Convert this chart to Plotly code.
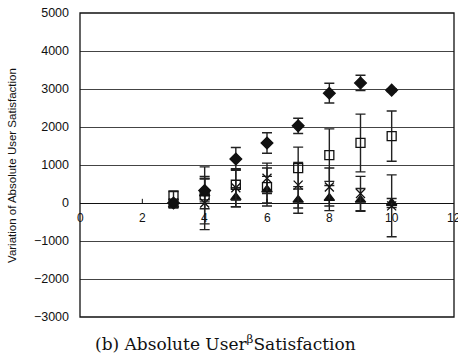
import plotly.graph_objects as go

# Number of items on the x axis
x_vals = [3, 4, 5, 6, 7, 8, 9, 10]

# Mean variation of absolute user satisfaction per series, with error half-widths
diamond_y = [0, 330, 1160, 1580, 2030, 2890, 3160, 2970]
diamond_err = [80, 300, 300, 270, 200, 260, 200, 40]

square_y = [200, 200, 480, 420, 920, 1260, 1580, 1760]
square_err = [100, 750, 400, 500, 550, 690, 760, 660]

cross_y = [0, 0, 400, 650, 470, 420, 250, -75]
cross_err = [80, 700, 500, 400, 600, 500, 450, 815]

triangle_y = [-50, 250, 150, 350, 80, 130, 80, 0]
triangle_err = [80, 400, 250, 350, 350, 330, 300, 120]

y_ticks = [-3000, -2000, -1000, 0, 1000, 2000, 3000, 4000, 5000]
x_ticks = [0, 2, 4, 6, 8, 10, 12]

fig = go.Figure()


def add_series(y, err, symbol, fill):
    fig.add_trace(go.Scatter(
        x=x_vals, y=y, mode="markers",
        marker=dict(symbol=symbol, size=9, color=fill,
                    line=dict(color="#111", width=1.3)),
        error_y=dict(type="data", array=err, visible=True,
                     color="#222", thickness=1.4, width=5),
        showlegend=False, cliponaxis=False,
    ))


add_series(triangle_y, triangle_err, "triangle-up", "#111")
add_series(cross_y, cross_err, "x-thin-open", "#111")
add_series(square_y, square_err, "square-open", "#111")
add_series(diamond_y, diamond_err, "diamond", "#111")

# The x axis crosses at y = 0: its tick marks and labels hang off the zero line
tick_shapes = [
    dict(type="line", xref="x", yref="y", x0=v, x1=v, y0=0, y1=110,
         line=dict(color="#111", width=1))
    for v in x_ticks[1:-1]
]
tick_labels = [
    dict(text=str(v), xref="x", yref="y", x=v, y=0, yshift=-15,
         showarrow=False, font=dict(size=12), xanchor="center",
         yanchor="middle")
    for v in x_ticks
]

fig.update_layout(
    template="none",
    width=458, height=358,
    margin=dict(l=80, r=4, t=13, b=41),
    paper_bgcolor="white", plot_bgcolor="white",
    font=dict(family="Liberation Sans, Arial, sans-serif", color="#111"),
    xaxis=dict(range=[0, 12], visible=False),
    yaxis=dict(
        range=[-3000, 5000], tickvals=y_ticks,
        showline=False, ticks="",
        showgrid=True, gridcolor="#444", gridwidth=1,
        zeroline=True, zerolinecolor="#111", zerolinewidth=1.2,
        tickfont=dict(size=12.5),
        ticklabelstandoff=10,
    ),
    shapes=tick_shapes + [
        dict(type="rect", xref="paper", yref="paper", x0=0, x1=1, y0=0, y1=1,
             line=dict(color="#111", width=1.3), layer="above"),
    ],
    annotations=tick_labels + [
        dict(text="Variation of Absolute User Satisfaction", textangle=-90,
             xref="paper", yref="paper", x=-0.182, y=0.5, showarrow=False,
             font=dict(size=11.5), xanchor="center", yanchor="middle"),
        dict(text="(b) Absolute User<sup>β</sup>Satisfaction",
             xref="paper", yref="paper", x=0.388, y=-0.0855, showarrow=False,
             font=dict(size=17, family="DejaVu Serif, Liberation Serif, serif"),
             xanchor="center", yanchor="middle"),
    ],
)

fig.write_html("out.html")
